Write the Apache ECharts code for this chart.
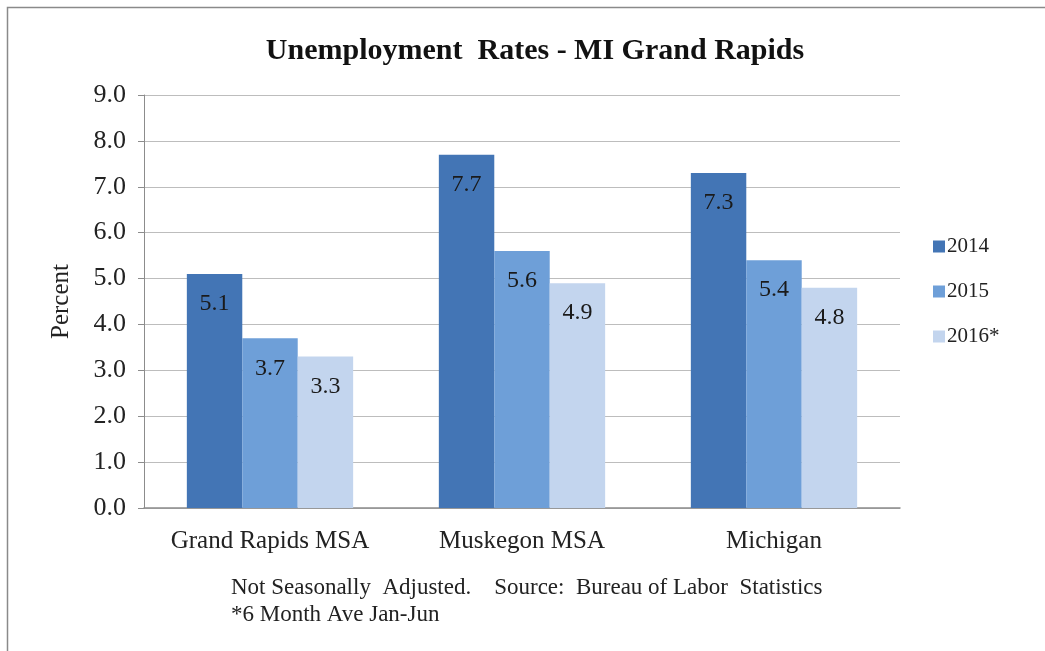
<!DOCTYPE html>
<html>
<head>
<meta charset="utf-8">
<script src="https://cdn.jsdelivr.net/npm/echarts@6/dist/echarts.min.js"></script>
<style>
  html, body { margin: 0; padding: 0; background: #fff; }
  #chart { width: 1045px; height: 651px; }
</style>
</head>
<body>
<div id="chart"></div>
<script>
const categories = ["Grand Rapids MSA", "Muskegon MSA", "Michigan"];
const years = ["2014", "2015", "2016*"];
const rates2014 = [5.1, 7.7, 7.3];
const rates2015 = [3.7, 5.6, 5.4];
const rates2016 = [3.3, 4.9, 4.8];
const colors = ["#4375b5", "#6e9fd8", "#c3d5ee"];

const serif = '"Liberation Serif", "Times New Roman", serif';

const makeSeries = (name, data, color) => ({
  name: name,
  type: "bar",
  data: data,
  barGap: "0%",
  barCategoryGap: "34%",
  itemStyle: { color: color },
  label: {
    show: true,
    position: "insideTop",
    distance: 18,
    color: "#1a1a1a",
    fontFamily: serif,
    fontSize: 24,
    formatter: (p) => p.value.toFixed(1),
  },
});

const chart = echarts.init(document.getElementById("chart"), null, { renderer: "canvas" });

const option = {
  animation: false,
  backgroundColor: "#fff",
  title: [
    {
      text: "Unemployment  Rates - MI Grand Rapids",
      left: 530,
      textAlign: "center",
      top: 31,
      textStyle: { fontFamily: serif, fontWeight: "bold", fontSize: 30, color: "#111" },
    },
    {
      text: "Not Seasonally  Adjusted.    Source:  Bureau of Labor  Statistics\n*6 Month Ave Jan-Jun",
      left: 226,
      top: 569,
      textStyle: { fontFamily: serif, fontWeight: "normal", fontSize: 23, color: "#222", lineHeight: 27 },
    },
  ],
  legend: {
    orient: "vertical",
    left: 928,
    top: 231,
    itemWidth: 12,
    itemHeight: 12,
    itemGap: 24,
    icon: "rect",
    data: years,
    textStyle: { fontFamily: serif, fontSize: 21, color: "#222", padding: [0, 0, 0, -3] },
  },
  grid: { left: 144, right: 145, top: 95, bottom: 143 },
  xAxis: {
    type: "category",
    data: categories,
    axisLine: { lineStyle: { color: "#8c8c8c", width: 1.5 } },
    axisTick: { show: false },
    axisLabel: {
      interval: 0,
      hideOverlap: false,
      fontFamily: serif,
      fontSize: 25,
      color: "#222",
      margin: 21,
    },
  },
  yAxis: {
    type: "value",
    min: 0,
    max: 9,
    interval: 1,
    name: "Percent",
    nameLocation: "middle",
    nameGap: 70,
    nameTextStyle: { fontFamily: serif, fontSize: 25, color: "#222" },
    axisLine: { show: true, lineStyle: { color: "#8c8c8c" } },
    axisTick: { show: true, length: 6, lineStyle: { color: "#8c8c8c" } },
    axisLabel: {
      fontFamily: serif,
      fontSize: 26,
      color: "#222",
      margin: 18,
      formatter: (v) => v.toFixed(1),
    },
    splitLine: { lineStyle: { color: "#bdbdbd", width: 1.2 } },
  },
  series: [
    makeSeries(years[0], rates2014, colors[0]),
    makeSeries(years[1], rates2015, colors[1]),
    makeSeries(years[2], rates2016, colors[2]),
  ],
  graphic: [
    {
      type: "polyline",
      shape: { points: [[7.5, 651], [7.5, 7.5], [1045, 7.5]] },
      style: { stroke: "#8a8a8a", lineWidth: 1.5, fill: null },
      silent: true,
    },
  ],
};

chart.setOption(option);
</script>
</body>
</html>
